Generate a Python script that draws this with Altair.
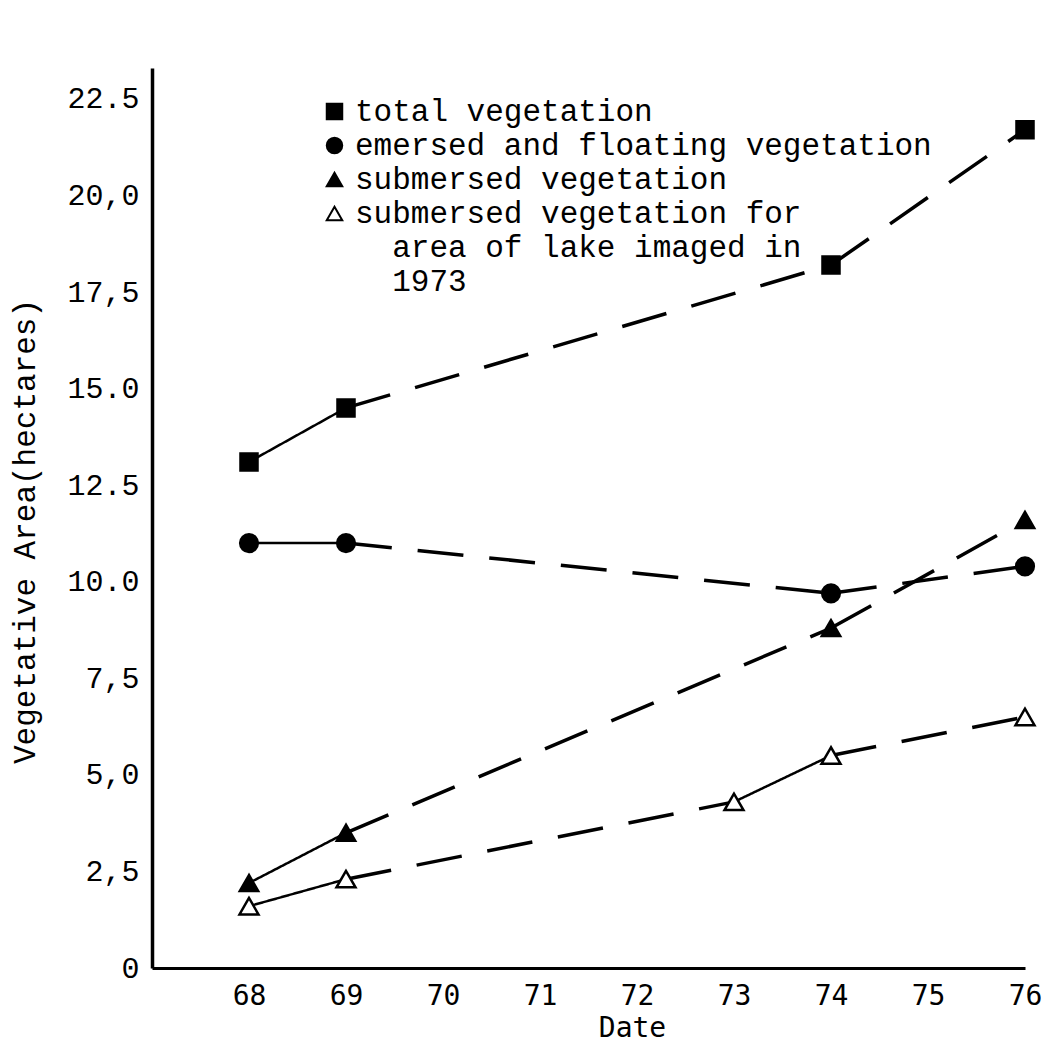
import altair as alt
import pandas as pd

# ---- data ----
series_names = [
    "total vegetation",
    "emersed and floating vegetation",
    "submersed vegetation",
    "submersed vegetation for",
]
# continuation lines of the last legend entry (legend-only rows, no data);
# a zero-width space keeps the indenting no-break spaces from being trimmed
legend_extra = ["\u200b\u00a0\u00a0area of lake imaged in", "\u200b\u00a0\u00a01973"]

total_years = [68, 69, 74, 76]
total_area = [13.1, 14.5, 18.2, 21.7]
total_styles = ["solid", "dashed", "dashed"]

emersed_years = [68, 69, 74, 76]
emersed_area = [11.0, 11.0, 9.7, 10.4]
emersed_styles = ["solid", "dashed", "dashed"]

sub_years = [68, 69, 74, 76]
sub_area = [2.2, 3.5, 8.8, 11.6]
sub_styles = ["solid", "dashed", "dashed"]

sub73_years = [68, 69, 73, 74, 76]
sub73_area = [1.6, 2.3, 4.3, 5.5, 6.5]
sub73_styles = ["solid", "dashed", "solid", "dashed"]

x_ticks = [68, 69, 70, 71, 72, 73, 74, 75, 76]
y_ticks = [0, 2.5, 5.0, 7.5, 10.0, 12.5, 15.0, 17.5, 20.0, 22.5]
y_tick_labels = ["0", "2,5", "5,0", "7,5", "10.0", "12.5", "15.0", "17,5", "20,0", "22.5"]

# ---- build tables ----
all_series = [
    (series_names[0], total_years, total_area, total_styles),
    (series_names[1], emersed_years, emersed_area, emersed_styles),
    (series_names[2], sub_years, sub_area, sub_styles),
    (series_names[3], sub73_years, sub73_area, sub73_styles),
]

pt_rows = []
seg_rows = []
for name, xs, ys, styles in all_series:
    for x, y in zip(xs, ys):
        pt_rows.append({"series": name, "year": x, "area": y})
    for i, st in enumerate(styles):
        seg_id = f"{name}-{i}"
        seg_rows.append({"series": name, "seg": seg_id, "style": st, "year": xs[i], "area": ys[i], "o": 0})
        seg_rows.append({"series": name, "seg": seg_id, "style": st, "year": xs[i + 1], "area": ys[i + 1], "o": 1})

pts = pd.DataFrame(pt_rows)
segs = pd.DataFrame(seg_rows)

legend_domain = series_names + legend_extra

xscale = alt.Scale(domain=[67, 76], nice=False, zero=False)
yscale = alt.Scale(domain=[0, 23.3], nice=False, zero=True)

label_expr_y = "[" + ",".join(f"'{s}'" for s in y_tick_labels) + "][round(datum.value / 2.5)]"

xaxis = alt.Axis(
    values=x_ticks, format="d", title="Date", ticks=False, grid=False,
    domainColor="black", domainWidth=3, labelFlush=False,
    labelFont="DejaVu Sans Mono", labelFontSize=28, labelColor="black", labelPadding=14,
    titleFont="DejaVu Sans Mono", titleFontSize=28, titleFontWeight="normal", titleColor="black",
    titleX=480, titleY=60, titleBaseline="middle",
)
yaxis = alt.Axis(
    values=y_ticks, labelExpr=label_expr_y, title="Vegetative Area(hectares)",
    ticks=False, grid=False, domainColor="black", domainWidth=3.5,
    labelFont="Liberation Mono", labelFontSize=30, labelColor="black", labelPadding=13,
    titleFont="Liberation Mono", titleFontSize=31, titleFontWeight="normal", titleColor="black",
    titleX=-127, titleY=463, titleBaseline="middle",
)

lines = alt.Chart(segs).mark_line(color="black").encode(
    x=alt.X("year:Q", scale=xscale, axis=xaxis),
    y=alt.Y("area:Q", scale=yscale, axis=yaxis),
    detail="seg:N",
    order="o:Q",
    strokeDash=alt.StrokeDash("style:N", scale=alt.Scale(domain=["solid", "dashed"], range=[[1, 0], [46, 26]]), legend=None),
    strokeWidth=alt.StrokeWidth("style:N", scale=alt.Scale(domain=["solid", "dashed"], range=[2.5, 3.5]), legend=None),
)

legend = alt.Legend(
    orient="none", legendX=167, legendY=28, title=None, padding=0,
    labelFont="Liberation Mono", labelFontSize=31, labelColor="black",
    labelLimit=1000, labelOffset=5, rowPadding=2,
    symbolSize=240, symbolStrokeWidth=2,
)

points = alt.Chart(pts).mark_point(filled=True, strokeWidth=2.5, opacity=1).encode(
    x=alt.X("year:Q", scale=xscale),
    y=alt.Y("area:Q", scale=yscale),
    shape=alt.Shape("series:N", scale=alt.Scale(domain=legend_domain, range=["square", "circle", "triangle-up", "triangle-up", "square", "square"]), legend=legend),
    fill=alt.Fill("series:N", scale=alt.Scale(domain=legend_domain, range=["black", "black", "black", "white", "transparent", "transparent"]), legend=legend),
    stroke=alt.Stroke("series:N", scale=alt.Scale(domain=legend_domain, range=["black", "black", "black", "black", "transparent", "transparent"]), legend=legend),
    size=alt.Size("series:N", scale=alt.Scale(domain=series_names, range=[290, 360, 480, 480]), legend=None),
)

chart = (
    alt.layer(lines, points)
    .properties(
        width=873, height=900,
        autosize=alt.AutoSizeParams(type="none"),
        padding={"left": 144, "top": 60, "right": 19, "bottom": 76},
        background="white",
    )
    .configure_view(stroke=None)
)

chart.save("out.html", embed_options={"renderer": "svg", "actions": False})
